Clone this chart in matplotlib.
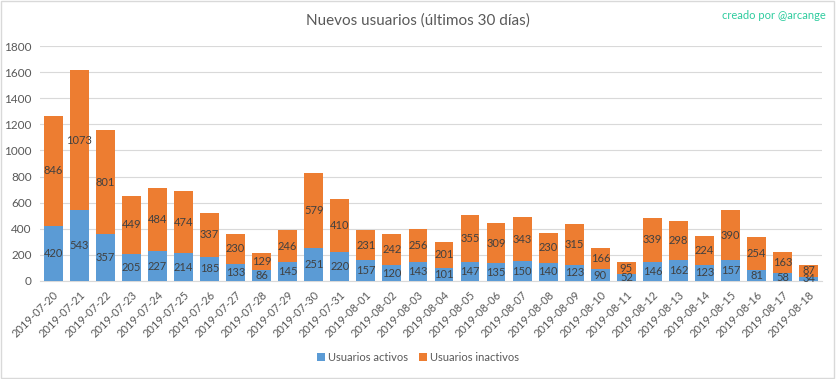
import numpy as np
import matplotlib
matplotlib.use("Agg")
from matplotlib import pyplot as plt

# datos del grafico
fechas = ["2019-07-20", "2019-07-21", "2019-07-22", "2019-07-23", "2019-07-24", "2019-07-25",
          "2019-07-26", "2019-07-27", "2019-07-28", "2019-07-29", "2019-07-30", "2019-07-31",
          "2019-08-01", "2019-08-02", "2019-08-03", "2019-08-04", "2019-08-05", "2019-08-06",
          "2019-08-07", "2019-08-08", "2019-08-09", "2019-08-10", "2019-08-11", "2019-08-12",
          "2019-08-13", "2019-08-14", "2019-08-15", "2019-08-16", "2019-08-17", "2019-08-18"]
activos = [420, 543, 357, 205, 227, 214, 185, 133, 86, 145, 251, 220, 157, 120, 143,
           101, 147, 135, 150, 140, 123, 90, 52, 146, 162, 123, 157, 81, 58, 34]
inactivos = [846, 1073, 801, 449, 484, 474, 337, 230, 129, 246, 579, 410, 231, 242, 256,
             201, 355, 309, 343, 230, 315, 166, 95, 339, 298, 224, 390, 254, 163, 87]
yticks = [0, 200, 400, 600, 800, 1000, 1200, 1400, 1600, 1800]

plt.rcParams['font.family'] = ['Lato', 'DejaVu Sans']

azul = '#5B9BD5'
naranja = '#ED7D31'
gris = '#595959'

fig = plt.figure(figsize=(8.36, 3.79), dpi=100)
ax = fig.add_axes([0.048, 0.2586, 0.935, 0.62])

x = np.arange(len(fechas))
b1 = ax.bar(x, activos, width=0.72, color=azul, label='Usuarios activos', zorder=3)
b2 = ax.bar(x, inactivos, width=0.72, bottom=activos, color=naranja, label='Usuarios inactivos', zorder=3)

ax.bar_label(b1, labels=[str(v) for v in activos], label_type='center', fontsize=8, color='#404040')
ax.bar_label(b2, labels=[str(v) for v in inactivos], label_type='center', fontsize=8, color='#404040')

ax.set_xlim(-0.5, len(fechas) - 0.5)
ax.set_ylim(0, 1800)
ax.set_yticks(yticks)
ax.set_yticklabels([str(t) for t in yticks], fontsize=8.5, color=gris)
ax.set_xticks(x)
ax.set_xticklabels(fechas, rotation=45, ha='right', rotation_mode='anchor', fontsize=8, color=gris)
ax.tick_params(axis='both', length=0, pad=6)
ax.grid(axis='y', color='#D9D9D9', lw=0.8, zorder=0)
for s in ['top', 'right', 'left']:
    ax.spines[s].set_visible(False)
ax.spines['bottom'].set_color('#D9D9D9')

fig.text(0.5, 0.945, 'Nuevos usuarios (últimos 30 días)', ha='center', va='center', fontsize=11, color=gris)
fig.text(0.988, 0.96, 'creado por @arcange', ha='right', va='center', fontsize=8, color='#2DCC9E')

fig.legend(handles=[b1, b2], loc='center', bbox_to_anchor=(0.5, 0.058), ncol=2, frameon=False,
           fontsize=8, handlelength=0.7, handleheight=0.7, handletextpad=0.3, columnspacing=1.0,
           labelcolor=gris)

# borde de la figura
fig.patches.append(plt.Rectangle((0.001, 0.002), 0.997, 0.995, transform=fig.transFigure,
                                 fill=False, edgecolor='#D9D9D9', lw=1))

fig.savefig('out.png', dpi=100)
